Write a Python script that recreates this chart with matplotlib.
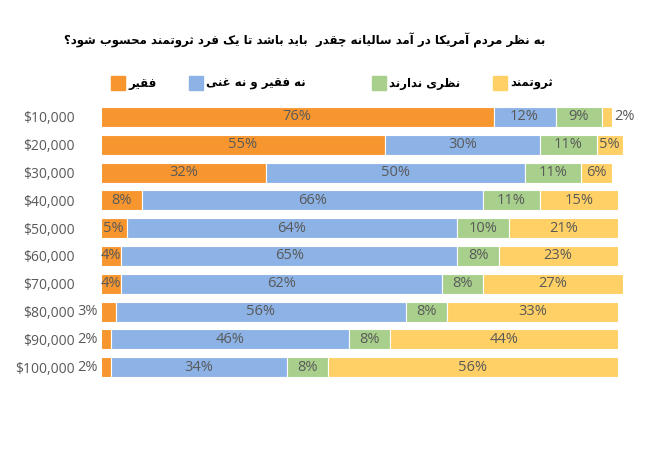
import matplotlib
matplotlib.use("Agg")
import matplotlib.pyplot as plt
from matplotlib.patches import Rectangle

# Persian letters -> (isolated, final, initial, medial); right-joining ones have only two forms
FORMS = {
    '\u0628': '\uFE8F\uFE90\uFE91\uFE92', '\u067E': '\uFB56\uFB57\uFB58\uFB59',
    '\u062A': '\uFE95\uFE96\uFE97\uFE98', '\u062B': '\uFE99\uFE9A\uFE9B\uFE9C',
    '\u062C': '\uFE9D\uFE9E\uFE9F\uFEA0', '\u0686': '\uFB7A\uFB7B\uFB7C\uFB7D',
    '\u062D': '\uFEA1\uFEA2\uFEA3\uFEA4', '\u062E': '\uFEA5\uFEA6\uFEA7\uFEA8',
    '\u0633': '\uFEB1\uFEB2\uFEB3\uFEB4', '\u0634': '\uFEB5\uFEB6\uFEB7\uFEB8',
    '\u0635': '\uFEB9\uFEBA\uFEBB\uFEBC', '\u0636': '\uFEBD\uFEBE\uFEBF\uFEC0',
    '\u0637': '\uFEC1\uFEC2\uFEC3\uFEC4', '\u0638': '\uFEC5\uFEC6\uFEC7\uFEC8',
    '\u0639': '\uFEC9\uFECA\uFECB\uFECC', '\u063A': '\uFECD\uFECE\uFECF\uFED0',
    '\u0641': '\uFED1\uFED2\uFED3\uFED4', '\u0642': '\uFED5\uFED6\uFED7\uFED8',
    '\u06A9': '\uFB8E\uFB8F\uFB90\uFB91', '\u06AF': '\uFB92\uFB93\uFB94\uFB95',
    '\u0644': '\uFEDD\uFEDE\uFEDF\uFEE0', '\u0645': '\uFEE1\uFEE2\uFEE3\uFEE4',
    '\u0646': '\uFEE5\uFEE6\uFEE7\uFEE8', '\u0647': '\uFEE9\uFEEA\uFEEB\uFEEC',
    '\u06CC': '\uFBFC\uFBFD\uFBFE\uFBFF', '\u064A': '\uFEF1\uFEF2\uFEF3\uFEF4',
    '\u0627': '\uFE8D\uFE8E', '\u0622': '\uFE81\uFE82',
    '\u062F': '\uFEA9\uFEAA', '\u0630': '\uFEAB\uFEAC',
    '\u0631': '\uFEAD\uFEAE', '\u0632': '\uFEAF\uFEB0',
    '\u0698': '\uFB8A\uFB8B', '\u0648': '\uFEED\uFEEE',
}


def fa(text):
    out = []
    n = len(text)
    for i, ch in enumerate(text):
        if ch not in FORMS:
            out.append(ch)
            continue
        f = FORMS[ch]
        prev = text[i - 1] if i > 0 else ''
        nxt = text[i + 1] if i < n - 1 else ''
        join_prev = prev in FORMS and len(FORMS[prev]) == 4
        join_next = len(f) == 4 and nxt in FORMS
        if join_prev and join_next:
            out.append(f[3])
        elif join_prev:
            out.append(f[1])
        elif join_next:
            out.append(f[2])
        else:
            out.append(f[0])
    return ''.join(out)[::-1]


title = 'به نظر مردم آمریکا در آمد سالیانه چقدر  باید باشد تا یک فرد ثروتمند محسوب شود؟'
categories = ['$10,000', '$20,000', '$30,000', '$40,000', '$50,000',
              '$60,000', '$70,000', '$80,000', '$90,000', '$100,000']
series_names = ['فقیر', 'نه فقیر و نه غنی', 'نظری ندارند', 'ثروتمند']
poor = [76, 55, 32, 8, 5, 4, 4, 3, 2, 2]
middle = [12, 30, 50, 66, 64, 65, 62, 56, 46, 34]
no_opinion = [9, 11, 11, 11, 10, 8, 8, 8, 8, 8]
rich = [2, 5, 6, 15, 21, 23, 27, 33, 44, 56]
colors = ['#F7962F', '#8DB3E6', '#A8D08C', '#FFD065']

label_color = '#595959'
num_font = 'Open Sans'

fig = plt.figure(figsize=(6.5, 4.63), dpi=100)
ax = fig.add_axes([0.155, 0.177, 0.803, 0.6005])

series = [poor, middle, no_opinion, rich]
y = list(range(len(categories)))
left = [0] * len(categories)
for k, vals in enumerate(series):
    ax.barh(y, vals, left=left, height=0.72, color=colors[k],
            edgecolor='white', linewidth=0.8)
    for i, v in enumerate(vals):
        if v < 4 and k == 0:
            ax.text(left[i] - 0.6, i, f'{v}%', ha='right', va='center',
                    color=label_color, fontsize=10.5, family=num_font)
        elif v < 4:
            ax.text(left[i] + v + 0.4, i, f'{v}%', ha='left', va='center',
                    color=label_color, fontsize=10.5, family=num_font)
        else:
            ax.text(left[i] + v / 2, i, f'{v}%', ha='center', va='center',
                    color=label_color, fontsize=10.5, family=num_font)
    left = [a + b for a, b in zip(left, vals)]

ax.set_xlim(0, 101)
ax.set_ylim(len(categories) - 0.5, -0.5)
ax.set_yticks(y)
ax.set_yticklabels(categories, color=label_color, fontsize=10, family=num_font)
ax.tick_params(axis='y', length=0, pad=19)
ax.set_xticks([])
for s in ax.spines.values():
    s.set_visible(False)

# title
fig.text(305 / 650, 1 - 40 / 463, fa(title), ha='center', va='center',
         fontsize=8.5, fontweight='bold', family='DejaVu Sans', color='black')

# legend: square then label
leg_x = [111, 189, 372, 493]
leg_y = 1 - 83 / 463
for k, name in enumerate(series_names):
    x0 = leg_x[k] / 650
    fig.patches.append(Rectangle((x0, leg_y - 7 / 463), 14 / 650, 14 / 463,
                                 transform=fig.transFigure, color=colors[k]))
    fig.text(x0 + 17 / 650, leg_y, fa(name), ha='left', va='center',
             fontsize=8.5, fontweight='bold', family='DejaVu Sans', color='black')

fig.savefig('out.png', dpi=100, facecolor='white')
